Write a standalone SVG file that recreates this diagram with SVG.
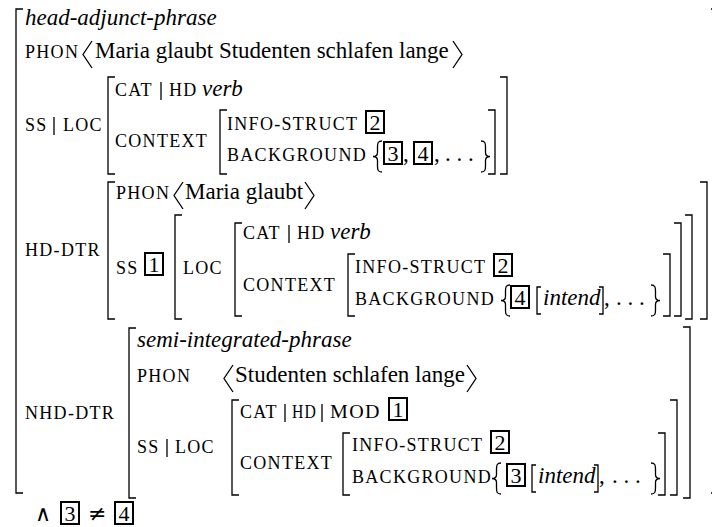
<svg xmlns="http://www.w3.org/2000/svg" width="712" height="527" viewBox="0 0 712 527">
<style>
text{font-family:"Liberation Serif","Times New Roman","DejaVu Serif",serif;font-size:23px;fill:#000}
.i{font-style:italic}
.sc{font-size:18px;letter-spacing:1.3px}
.n{font-size:22px;text-anchor:middle}
.m{font-family:"DejaVu Sans",sans-serif}
.br{fill:none;stroke:#000;stroke-width:1.3}
.bx{fill:none;stroke:#000;stroke-width:2}
</style>
<rect width="712" height="527" fill="#fff"/>
<g id="outer">
<path class="br" d="M23,9 H16 V493 H23"/>
<path class="br" d="M711,9 H714 V493 H711"/>
<text class="i" x="25" y="25">head-adjunct-phrase</text>
<text class="sc" x="25" y="58">PHON</text>
<polyline class="br" points="92,41 83,54.5 92,68"/>
<text x="95" y="58">Maria glaubt Studenten schlafen lange</text>
<polyline class="br" points="453,41 462,54.5 453,68"/>
<text class="sc" x="25" y="131">SS</text>
<line class="br" x1="54" y1="117" x2="54" y2="135"/>
<text class="sc" x="63" y="131">LOC</text>
</g>
<g id="top-loc">
<path class="br" d="M115,77 H108 V174 H115"/>
<path class="br" d="M500,77 H507 V174 H500"/>
<text class="sc" x="115" y="96">CAT</text>
<line class="br" x1="161" y1="82" x2="161" y2="100"/>
<text class="sc" x="169" y="96">HD</text>
<text class="i" x="202" y="96">verb</text>
<text class="sc" x="115" y="147">CONTEXT</text>
<path class="br" d="M227,110 H220 V174 H227"/>
<path class="br" d="M488,110 H495 V174 H488"/>
<text class="sc" x="227" y="130">INFO-STRUCT</text>
<rect class="bx" x="366" y="111" width="18" height="22"/>
<text class="n" x="375" y="130">2</text>
<text class="sc" x="227" y="161">BACKGROUND</text>
<path class="br" d="M382,141 C378,141 377.5,143 377.5,147 V152.5 C377.5,155.5 375,156.5 373,156.5 C375,156.5 377.5,157.5 377.5,160.5 V166 C377.5,170 378,172 382,172"/>
<rect class="bx" x="384" y="142" width="18" height="22"/>
<text class="n" x="393" y="161">3</text>
<text x="403" y="161">,</text>
<rect class="bx" x="414" y="142" width="18" height="22"/>
<text class="n" x="423" y="161">4</text>
<text x="434" y="161">,</text>
<text x="445" y="161">. . .</text>
<path class="br" d="M481,141 C485,141 485.5,143 485.5,147 V152.5 C485.5,155.5 488,156.5 490,156.5 C488,156.5 485.5,157.5 485.5,160.5 V166 C485.5,170 485,172 481,172"/>
</g>
<g id="hd-dtr">
<text class="sc" x="25" y="256">HD-DTR</text>
<path class="br" d="M115,182 H108 V319 H115"/>
<path class="br" d="M700,182 H707 V319 H700"/>
<text class="sc" x="116" y="199">PHON</text>
<polyline class="br" points="183,182 174,195.5 183,209"/>
<text x="185" y="199">Maria glaubt</text>
<polyline class="br" points="305,182 314,195.5 305,209"/>
<text class="sc" x="116" y="274">SS</text>
<rect class="bx" x="145" y="253" width="18" height="22"/>
<text class="n" x="154" y="272">1</text>
<path class="br" d="M182,215 H175 V319 H182"/>
<path class="br" d="M685,215 H692 V319 H685"/>
<text class="sc" x="183" y="274">LOC</text>
<path class="br" d="M242,223 H235 V316 H242"/>
<path class="br" d="M674,223 H681 V316 H674"/>
<text class="sc" x="243" y="239">CAT</text>
<line class="br" x1="289" y1="225" x2="289" y2="243"/>
<text class="sc" x="297" y="239">HD</text>
<text class="i" x="330" y="239">verb</text>
<text class="sc" x="243" y="291">CONTEXT</text>
<path class="br" d="M355,254 H348 V316 H355"/>
<path class="br" d="M663,254 H670 V316 H663"/>
<text class="sc" x="355" y="273">INFO-STRUCT</text>
<rect class="bx" x="494" y="254" width="18" height="22"/>
<text class="n" x="503" y="273">2</text>
<text class="sc" x="355" y="305">BACKGROUND</text>
<path class="br" d="M510,285 C506,285 505.5,287 505.5,291 V296.5 C505.5,299.5 503,300.5 501,300.5 C503,300.5 505.5,301.5 505.5,304.5 V310 C505.5,314 506,316 510,316"/>
<rect class="bx" x="511" y="286" width="18" height="22"/>
<text class="n" x="520" y="305">4</text>
<path class="br" d="M541,287 H537 V314 H541"/>
<text class="i" x="543" y="305">intend</text>
<path class="br" d="M599,287 H603 V314 H599"/>
<text x="604" y="305">,</text>
<text x="616" y="305">. . .</text>
<path class="br" d="M651,285 C655,285 655.5,287 655.5,291 V296.5 C655.5,299.5 658,300.5 660,300.5 C658,300.5 655.5,301.5 655.5,304.5 V310 C655.5,314 655,316 651,316"/>
</g>
<g id="nhd-dtr">
<text class="sc" x="25" y="419">NHD-DTR</text>
<path class="br" d="M136,328 H129 V498 H136"/>
<path class="br" d="M683,327 H690 V498 H683"/>
<text class="i" x="137" y="347">semi-integrated-phrase</text>
<text class="sc" x="137" y="382">PHON</text>
<polyline class="br" points="233,365 224,378.5 233,392"/>
<text x="235" y="382">Studenten schlafen lange</text>
<polyline class="br" points="467,365 476,378.5 467,392"/>
<text class="sc" x="137" y="453">SS</text>
<line class="br" x1="167" y1="439" x2="167" y2="457"/>
<text class="sc" x="175" y="453">LOC</text>
<path class="br" d="M239,400 H232 V495 H239"/>
<path class="br" d="M670,400 H677 V495 H670"/>
<text class="sc" x="240" y="418">CAT</text>
<line class="br" x1="285" y1="404" x2="285" y2="422"/>
<text class="sc" x="292" y="418" textLength="25" lengthAdjust="spacingAndGlyphs">HD</text>
<line class="br" x1="322" y1="404" x2="322" y2="422"/>
<text class="sc" x="330" y="418" textLength="51" lengthAdjust="spacingAndGlyphs">MOD</text>
<rect class="bx" x="389" y="398" width="18" height="22"/>
<text class="n" x="398" y="417">1</text>
<text class="sc" x="240" y="469">CONTEXT</text>
<path class="br" d="M350,433 H343 V495 H350"/>
<path class="br" d="M658,433 H665 V495 H658"/>
<text class="sc" x="352" y="451">INFO-STRUCT</text>
<rect class="bx" x="491" y="431" width="18" height="22"/>
<text class="n" x="500" y="450">2</text>
<text class="sc" x="352" y="483">BACKGROUND</text>
<path class="br" d="M501,463 C497,463 496.5,465 496.5,469 V474.5 C496.5,477.5 494,478.5 492,478.5 C494,478.5 496.5,479.5 496.5,482.5 V488 C496.5,492 497,494 501,494"/>
<rect class="bx" x="507" y="464" width="18" height="22"/>
<text class="n" x="516" y="483">3</text>
<path class="br" d="M536,465 H532 V492 H536"/>
<text class="i" x="538" y="483">intend</text>
<path class="br" d="M594,465 H598 V492 H594"/>
<text x="599" y="483">,</text>
<text x="612" y="483">. . .</text>
<path class="br" d="M651,463 C655,463 655.5,465 655.5,469 V474.5 C655.5,477.5 658,478.5 660,478.5 C658,478.5 655.5,479.5 655.5,482.5 V488 C655.5,492 655,494 651,494"/>
</g>
<g id="constraint">
<text class="m" x="35" y="521" style="font-size:22px">∧</text>
<rect class="bx" x="61" y="502" width="18" height="22"/>
<text class="n" x="70" y="521">3</text>
<text class="m" x="88" y="521" style="font-size:22px">≠</text>
<rect class="bx" x="115" y="502" width="18" height="22"/>
<text class="n" x="124" y="521">4</text>
</g>
</svg>
